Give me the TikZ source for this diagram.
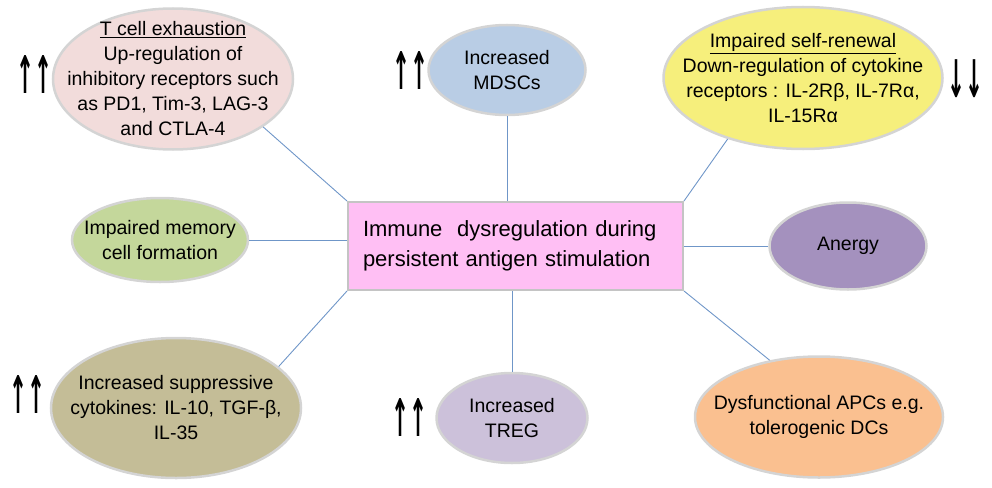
\documentclass[tikz,border=0pt]{standalone}
\usepackage{fontspec}
\setmainfont{Liberation Sans}
\newfontfamily\markfont{DejaVu Sans}
\usetikzlibrary{shapes.geometric}

\definecolor{tcpink}{HTML}{F2DCDB}
\definecolor{mdscblue}{HTML}{B9CDE5}
\definecolor{renewyellow}{HTML}{F6EF7C}
\definecolor{memgreen}{HTML}{C4D79B}
\definecolor{anergypurple}{HTML}{A491BE}
\definecolor{cytotan}{HTML}{C4BD97}
\definecolor{tregpurple}{HTML}{CCC1DA}
\definecolor{apcorange}{HTML}{FAC090}
\definecolor{hubpink}{HTML}{FFBFF4}
\definecolor{rimgray}{HTML}{D4D4D4}
\definecolor{boxgray}{HTML}{C4C4C4}
\definecolor{linkblue}{HTML}{6F96C8}

\newcommand{\tallmarks}[1]{\resizebox*{36pt}{38pt}{\markfont\bfseries #1}}

\begin{document}
\begin{tikzpicture}[x=1pt, y=-1pt,
                    every edge/.style={draw=linkblue, line width=0.9pt},
                    ell/.style={ellipse, draw=rimgray, line width=2.5pt, inner sep=-60pt, align=center, font=\fontsize{19.5}{25}\selectfont},
                    hubb/.style={rectangle, draw=boxgray, line width=2pt, fill=hubpink, minimum width=335pt, minimum height=88pt, text width=305pt, align=left, font=\fontsize{22}{30}\selectfont},
                    ups/.style={inner sep=0pt}]
        \useasboundingbox (0,0) rectangle (992,487);
        \node (Center) [hubb] at (515.5,246) {Immune\ \ dysregulation during\\persistent antigen stimulation};
        \node (Exhaustion) [ell, fill=tcpink, minimum width=240pt, minimum height=141pt] at (173,79) {\underline{T cell exhaustion}\\Up-regulation of\\inhibitory receptors such\\as PD1, Tim-3, LAG-3\\and CTLA-4};
        \node (MDSC) [ell, fill=mdscblue, minimum width=157pt, minimum height=90pt] at (507,70) {Increased\\MDSCs};
        \node (Renewal) [ell, fill=renewyellow, minimum width=279pt, minimum height=142pt] at (803,78) {\underline{Impaired self-renewal}\\Down-regulation of cytokine\\receptors : IL-2Rβ, IL-7Rα,\\IL-15Rα};
        \node (Memory) [ell, fill=memgreen, minimum width=176pt, minimum height=84pt] at (160,240) {Impaired memory\\cell formation};
        \node (Anergy) [ell, fill=anergypurple, minimum width=157pt, minimum height=87pt] at (848,246) {Anergy};
        \node (Cytokines) [ell, fill=cytotan, minimum width=250pt, minimum height=140pt] at (176,408) {Increased suppressive\\cytokines: IL-10, TGF-β,\\IL-35};
        \node (Treg) [ell, fill=tregpurple, minimum width=151pt, minimum height=90pt] at (512,418) {Increased\\TREG};
        \node (APC) [ell, fill=apcorange, minimum width=248pt, minimum height=121pt] at (819,417) {Dysfunctional APCs e.g.\\tolerogenic DCs};

        % up / down marks
        \node (ExhaustionUp) [ups] at (34,74) {\tallmarks{↑↑}};
        \node (MDSCUp) [ups] at (410,70) {\tallmarks{↑↑}};
        \node (RenewalDown) [ups] at (965,79) {\tallmarks{↓↓}};
        \node (CytokinesUp) [ups] at (27,394) {\tallmarks{↑↑}};
        \node (TregUp) [ups] at (409,417) {\tallmarks{↑↑}};

        \path
        (Center.north west)
            edge (Exhaustion.-28)
        (MDSC)
            edge (MDSC |- Center.north)
        (Center.north east)
            edge (Renewal.-141)
        (Memory)
            edge (Memory -| Center.west)
        (Anergy)
            edge (Anergy -| Center.east)
        (Center.south west)
            edge (Cytokines.22)
        (Treg)
            edge (Treg |- Center.south)
        (Center.south east)
            edge (APC.131)
        ;
\end{tikzpicture}
\end{document}
